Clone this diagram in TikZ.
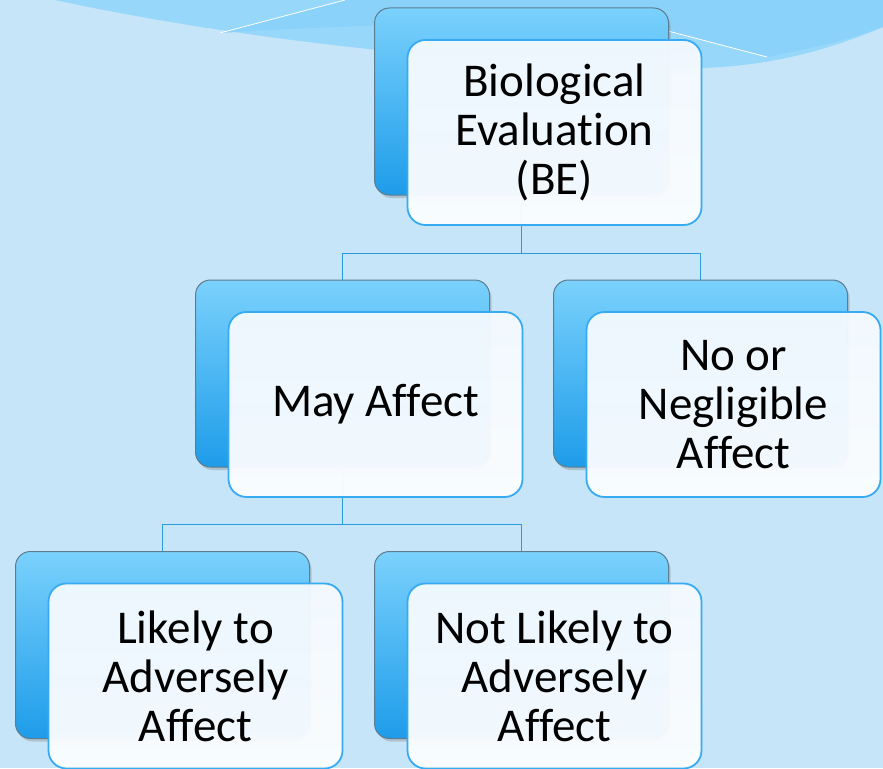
\documentclass[tikz,border=0pt]{standalone}
\usepackage{fontspec}
\setmainfont[Ligatures=NoCommon]{Carlito}
\usetikzlibrary{positioning, shadows}

\definecolor{bgblue}{HTML}{C6E5F9}
\definecolor{wavelight}{HTML}{97D7FA}
\definecolor{wavedark}{HTML}{8AD2FA}
\definecolor{backtop}{HTML}{7AD1FC}
\definecolor{backbot}{HTML}{1E9CE9}
\definecolor{backline}{HTML}{5E7C90}
\definecolor{fronttop}{HTML}{F3F9FF}
\definecolor{frontbot}{HTML}{FBFDFF}
\definecolor{frontline}{HTML}{36ABF2}
\definecolor{linkblue}{HTML}{2C9BDA}

\tikzset{
	backbox/.style={draw=backline, line width=1pt, rounded corners=15pt, top color=backtop, bottom color=backbot, minimum width=294pt, minimum height=187pt, drop shadow={opacity=0.35, shadow xshift=2pt, shadow yshift=-3pt}},
	frontbox/.style={draw=frontline, line width=1.8pt, rounded corners=18pt, top color=fronttop, bottom color=frontbot, fill opacity=0.96, text opacity=1, minimum width=294pt, minimum height=185pt, align=center, font=\fontsize{47}{49}\selectfont, xshift=33pt, yshift=-31pt},
	link/.style={draw=linkblue, line width=1.6pt}
}

\begin{document}
\begin{tikzpicture}[x=1pt, y=-1pt]
	
	% Background and top wave
	\useasboundingbox (0,0) rectangle (883,768);
	\fill[bgblue] (0,0) rectangle (883,768);
	\fill[wavelight] (55,0) .. controls (250,42) and (500,68) .. (700,68) .. controls (780,66) and (840,45) .. (883,27) -- (883,0) -- cycle;
	\fill[wavedark] (345,0) -- (220,33) .. controls (420,20) and (600,22) .. (668,31) -- (767,57) .. controls (830,45) and (860,35) .. (883,27) -- (883,0) -- cycle;
	\draw[white, line width=0.8pt] (220,33) -- (345,0);
	\draw[white, line width=0.8pt] (668,31) -- (767,57);
	
	% Back boxes
	\node[backbox] (beback) at (521.5,101.5) {};
	\node[backbox] (mayback) at (342.5,373.5) {};
	\node[backbox] (noback) at (700.5,373.5) {};
	\node[backbox] (likelyback) at (162.5,645) {};
	\node[backbox] (notlikelyback) at (521.5,645) {};
	
	% Connectors
	\draw[link] (beback.south) -- ++(0,58) coordinate (bebus) -| (mayback.north);
	\draw[link] (bebus) -| (noback.north);
	\draw[link] (mayback.south) -- ++(0,57) coordinate (maybus) -| (likelyback.north);
	\draw[link] (maybus) -| (notlikelyback.north);
	
	% Front boxes
	\node[frontbox] (befront) at (beback) {Biological\\Evaluation\\(BE)};
	\node[frontbox] (mayfront) at (mayback) {May Affect};
	\node[frontbox] (nofront) at (noback) {No or\\Negligible\\Affect};
	\node[frontbox] (likelyfront) at (likelyback) {Likely to\\Adversely\\Affect};
	\node[frontbox] (notlikelyfront) at (notlikelyback) {Not Likely to\\Adversely\\Affect};
\end{tikzpicture}
\end{document}
